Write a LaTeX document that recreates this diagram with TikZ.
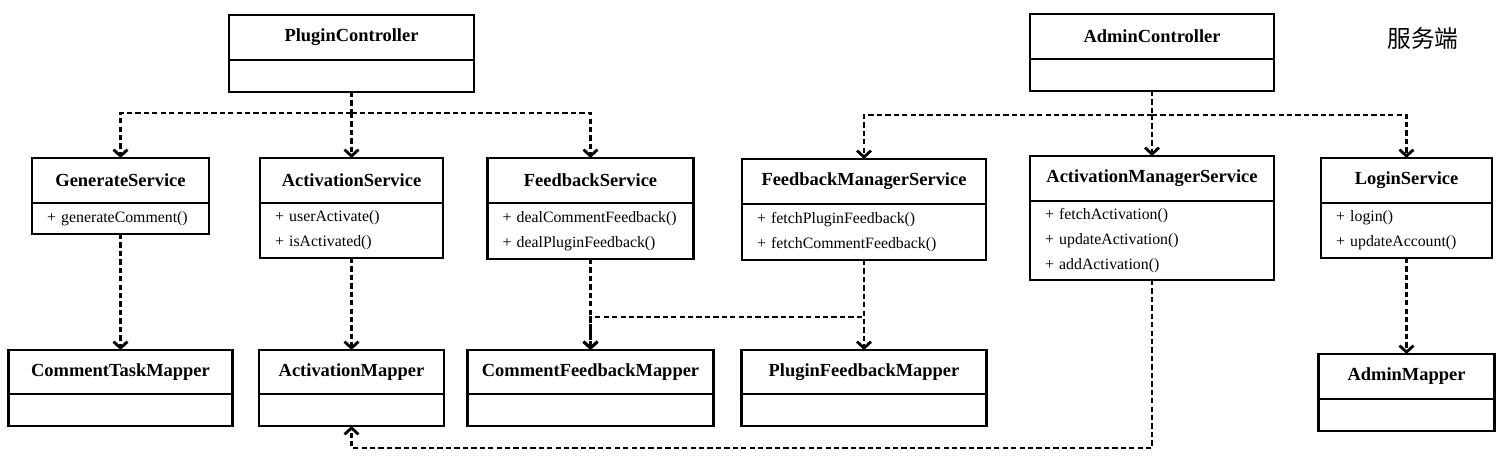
\documentclass[tikz,border=0pt]{standalone}
\usepackage{fontspec}
\setmainfont{Liberation Serif}
\newfontfamily\cjk{Noto Sans CJK SC}
\usepackage{tikz}
\usetikzlibrary{arrows.meta}

\begin{document}
\begin{tikzpicture}[
  ctitle/.style={rectangle, draw, line width=1.4pt, outer sep=0pt,
    anchor=north, minimum height=0.9cm, inner sep=0pt,
    font=\fontsize{10.5}{12}\selectfont\bfseries},
  cbody/.style={rectangle, draw, line width=1.4pt, outer sep=0pt,
    anchor=north, minimum height=0.64cm, inner xsep=0.3cm, inner ysep=0pt,
    align=left, font=\fontsize{9}{14.2}\selectfont},
  link/.style={line width=1.6pt, dash pattern=on 3pt off 1.8pt},
  dep/.style={link, -{Straight Barb[length=1.3mm,width=2.8mm]}}
]
\useasboundingbox (0,0) rectangle (30.14,-9.2);

% Controllers
\node[ctitle, minimum width=4.90cm] (pc) at (7.03,-0.30) {PluginController};
\node[cbody, minimum width=4.90cm] (pc-b) at (pc.south) {};
\node[ctitle, minimum width=4.88cm] (ac) at (23.04,-0.28) {AdminController};
\node[cbody, minimum width=4.88cm] (ac-b) at (ac.south) {};
\node[font=\cjk\fontsize{13.5}{16}\selectfont] (side) at (28.46,-0.76) {服务端};

% Services
\node[ctitle, minimum width=3.54cm] (gs) at (2.41,-3.16) {GenerateService};
\node[cbody, text width=2.94cm, minimum height=0.62cm] (gs-b) at (gs.south) {+ generateComment()};
\node[ctitle, minimum width=3.66cm] (as) at (7.03,-3.16) {ActivationService};
\node[cbody, text width=3.06cm, minimum height=1.1cm] (as-b) at (as.south) {+ userActivate()\\+ isActivated()};
\node[ctitle, minimum width=4.12cm] (fs) at (11.81,-3.16) {FeedbackService};
\node[cbody, text width=3.52cm, minimum height=1.12cm] (fs-b) at (fs.south) {+ dealCommentFeedback()\\+ dealPluginFeedback()};
\node[ctitle, minimum width=4.88cm] (fms) at (17.28,-3.18) {FeedbackManagerService};
\node[cbody, text width=4.28cm, minimum height=1.12cm] (fms-b) at (fms.south) {+ fetchPluginFeedback()\\+ fetchCommentFeedback()};
\node[ctitle, minimum width=4.88cm] (ams) at (23.04,-3.12) {ActivationManagerService};
\node[cbody, text width=4.28cm, minimum height=1.58cm] (ams-b) at (ams.south) {+ fetchActivation()\\+ updateActivation()\\+ addActivation()};
\node[ctitle, minimum width=3.42cm] (ls) at (28.13,-3.16) {LoginService};
\node[cbody, text width=2.82cm, minimum height=1.1cm] (ls-b) at (ls.south) {+ login()\\+ updateAccount()};

% Mappers
\node[ctitle, minimum width=4.48cm, minimum height=0.88cm] (ctm) at (2.41,-7.00) {CommentTaskMapper};
\node[cbody, minimum width=4.48cm] (ctm-b) at (ctm.south) {};
\node[ctitle, minimum width=3.70cm, minimum height=0.88cm] (am) at (7.03,-7.00) {ActivationMapper};
\node[cbody, minimum width=3.70cm] (am-b) at (am.south) {};
\node[ctitle, minimum width=4.92cm, minimum height=0.88cm] (cfm) at (11.81,-7.00) {CommentFeedbackMapper};
\node[cbody, minimum width=4.92cm] (cfm-b) at (cfm.south) {};
\node[ctitle, minimum width=4.90cm, minimum height=0.88cm] (pfm) at (17.28,-7.00) {PluginFeedbackMapper};
\node[cbody, minimum width=4.90cm] (pfm-b) at (pfm.south) {};
\node[ctitle, minimum width=3.52cm] (adm) at (28.13,-7.08) {AdminMapper};
\node[cbody, minimum width=3.52cm] (adm-b) at (adm.south) {};

% Controller -> services
\coordinate (pcj) at (7.03,-2.26);
\draw[link] (pc-b.south) -- (pcj);
\draw[dep] (pcj) -| (gs.north);
\draw[dep] (pcj) -- (as.north);
\draw[dep] (pcj) -| (fs.north);

\coordinate (acj) at (23.04,-2.30);
\draw[link] (ac-b.south) -- (acj);
\draw[dep] (acj) -| (fms.north);
\draw[dep] (acj) -- (ams.north);
\draw[dep] (acj) -| (ls.north);

% Services -> mappers
\draw[dep] (gs-b.south) -- (ctm.north);
\draw[dep] (as-b.south) -- (am.north);
\draw[dep] (fs-b.south) -- (cfm.north);
\draw[dep] (fms-b.south) -- (pfm.north);
\coordinate (fbj) at (11.81,-6.34);
\draw[dep] (fms-b.south) |- (fbj) -- (cfm.north);
\coordinate (amj) at (23.04,-8.96);
\draw[dep] (ams-b.south) -- (amj) -| (am-b.south);
\draw[dep] (ls-b.south) -- (adm.north);

\end{tikzpicture}
\end{document}
